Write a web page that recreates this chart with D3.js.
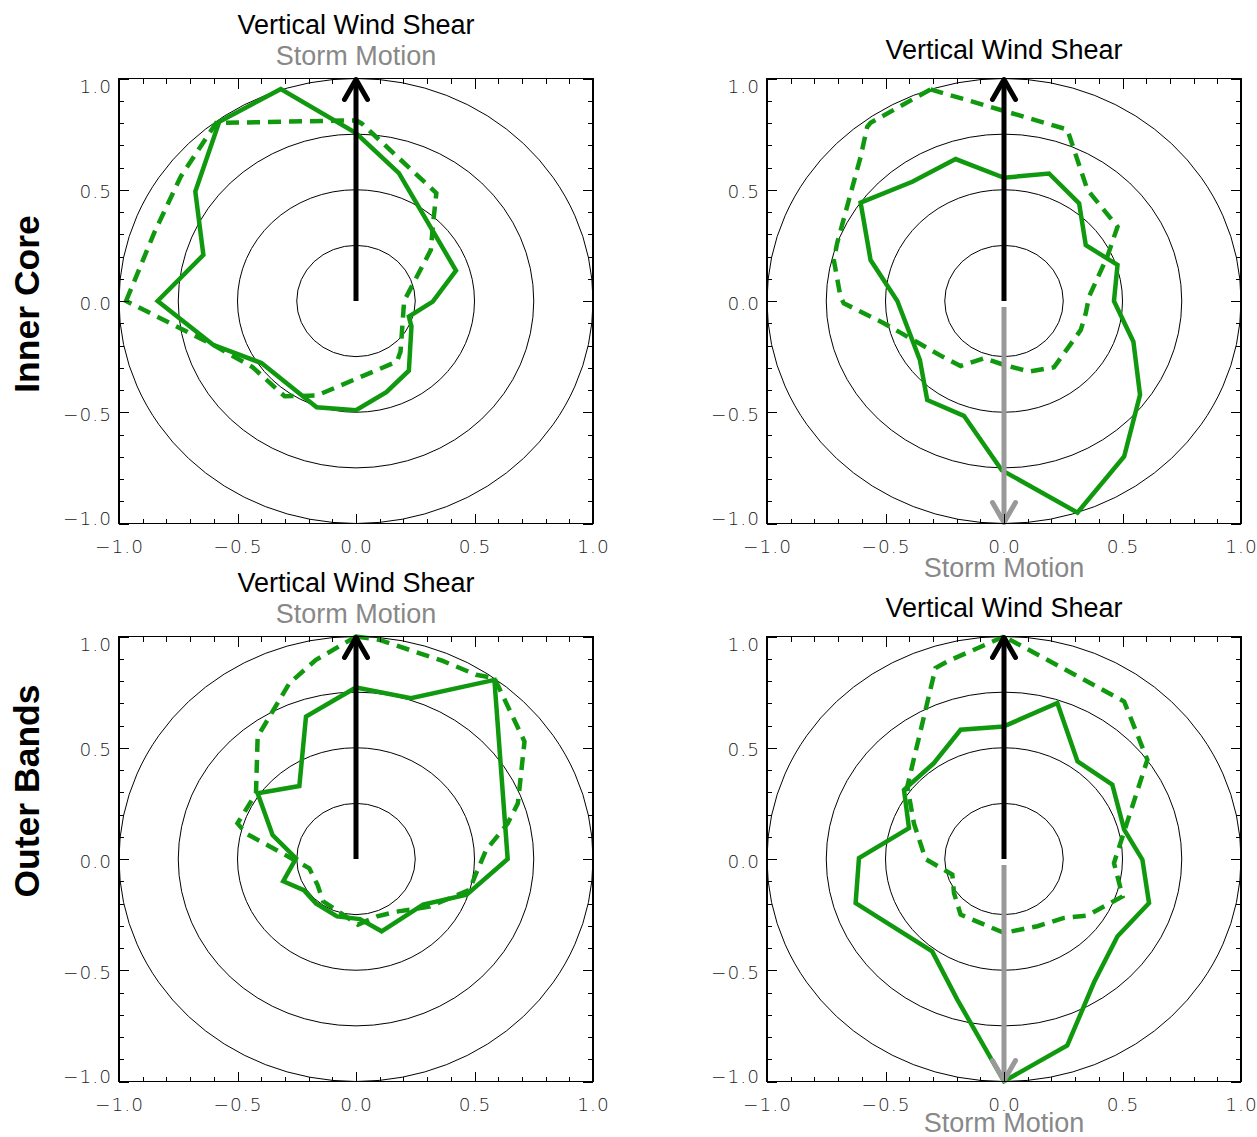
<!DOCTYPE html>
<html><head><meta charset="utf-8">
<script src="https://cdn.jsdelivr.net/npm/d3@7"></script>
<style>body{margin:0;background:#fff;} svg{display:block}</style>
</head><body><svg id="c" width="1257" height="1137"></svg>
<script>
// ---------------- data ----------------
const ringRadii = [0.25, 0.5, 0.75, 1.0];
const majorTicks = [-1, -0.5, 0, 0.5, 1];
const tickLabels = ["−1.0", "−0.5", "0.0", "0.5", "1.0"];
const minorTicks = [-0.9,-0.8,-0.7,-0.6,-0.4,-0.3,-0.2,-0.1,0.1,0.2,0.3,0.4,0.6,0.7,0.8,0.9];
const rowLabels = ["Inner Core", "Outer Bands"];
const shearTitle = "Vertical Wind Shear";
const motionTitle = "Storm Motion";

// [x, y] vertices (normalized, shear pointing up)
const innerShearSolid = [[-0.317,0.953],[-0.577,0.805],[-0.678,0.492],[-0.644,0.207],[-0.837,0.0],[-0.603,-0.197],[-0.399,-0.279],[-0.166,-0.478],[0.0,-0.491],[0.128,-0.41],[0.223,-0.313],[0.234,-0.115],[0.223,-0.07],[0.324,-0.003],[0.422,0.137],[0.181,0.575],[0.0,0.755]];
const innerShearDashed = [[-0.97,0.0],[-0.852,0.305],[-0.739,0.56],[-0.59,0.80],[0.0,0.812],[0.025,0.797],[0.339,0.485],[0.324,0.335],[0.316,0.23],[0.203,0.0],[0.188,-0.227],[0.173,-0.272],[-0.166,-0.425],[-0.301,-0.428],[-0.437,-0.297],[-0.603,-0.197]];
const innerMotionSolid = [[-0.605,0.442],[-0.387,0.536],[-0.204,0.638],[0.0,0.554],[0.19,0.573],[0.317,0.439],[0.345,0.251],[0.479,0.162],[0.464,0.0],[0.546,-0.183],[0.574,-0.422],[0.507,-0.699],[0.31,-0.951],[-0.01,-0.76],[-0.169,-0.516],[-0.324,-0.445],[-0.355,-0.265],[-0.45,0.0],[-0.563,0.184]];
const innerMotionDashed = [[-0.31,0.951],[0.267,0.771],[0.296,0.678],[0.352,0.5],[0.479,0.334],[0.436,0.2],[0.359,0.02],[0.345,-0.055],[0.324,-0.13],[0.211,-0.298],[0.106,-0.317],[0.0,-0.287],[-0.084,-0.257],[-0.183,-0.292],[-0.26,-0.25],[-0.408,-0.16],[-0.507,-0.1],[-0.676,-0.01],[-0.69,0.02],[-0.718,0.184],[-0.704,0.26],[-0.605,0.648],[-0.577,0.783],[-0.563,0.801]];
const outerShearSolid = [[0.0,0.771],[0.232,0.723],[0.584,0.805],[0.64,0.0],[0.467,-0.16],[0.283,-0.205],[0.108,-0.325],[0.017,-0.27],[-0.08,-0.258],[-0.169,-0.2],[-0.22,-0.14],[-0.307,-0.1],[-0.253,0.003],[-0.352,0.108],[-0.415,0.295],[-0.239,0.328],[-0.211,0.64]];
const outerShearDashed = [[0.0,1.0],[0.099,0.985],[0.366,0.89],[0.507,0.828],[0.584,0.813],[0.711,0.528],[0.683,0.25],[0.64,0.16],[0.549,0.04],[0.507,-0.064],[0.479,-0.139],[0.31,-0.214],[0.169,-0.237],[0.089,-0.258],[0.008,-0.295],[-0.139,-0.19],[-0.162,-0.117],[-0.197,-0.042],[-0.31,0.025],[-0.464,0.115],[-0.5,0.16],[-0.422,0.295],[-0.415,0.55],[-0.352,0.663],[-0.281,0.79],[-0.169,0.895]];
const outerMotionSolid = [[0.0,0.596],[-0.183,0.581],[-0.296,0.431],[-0.422,0.311],[-0.401,0.139],[-0.612,0.004],[-0.626,-0.198],[-0.303,-0.415],[-0.197,-0.632],[0.0,-0.999],[0.267,-0.838],[0.38,-0.554],[0.479,-0.347],[0.612,-0.198],[0.584,-0.003],[0.507,0.132],[0.457,0.334],[0.31,0.439],[0.225,0.701],[0.014,0.603]];
const outerMotionDashed = [[0.0,1.0],[-0.239,0.888],[-0.289,0.858],[-0.408,0.326],[-0.38,0.16],[-0.331,0.0],[-0.218,-0.07],[-0.211,-0.153],[-0.183,-0.25],[0.0,-0.332],[0.141,-0.302],[0.253,-0.265],[0.352,-0.254],[0.5,-0.168],[0.486,-0.108],[0.464,-0.018],[0.605,0.446],[0.507,0.708]];

// ---------------- layout ----------------
const W = 474, H = 445;
const GREEN = "#10990f", GRAY = "#999999";
const panels = [
  {x0:119, y0:78.5,  solid:innerShearSolid,  dashed:innerShearDashed,  opposite:false, motionDy:0},
  {x0:767, y0:78.5,  solid:innerMotionSolid, dashed:innerMotionDashed, opposite:true,  motionDy:53},
  {x0:119, y0:636.5, solid:outerShearSolid,  dashed:outerShearDashed,  opposite:false, motionDy:0},
  {x0:767, y0:636.5, solid:outerMotionSolid, dashed:outerMotionDashed, opposite:true,  motionDy:50}
];

const svg = d3.select("#c");
const TICKFONT = "'DejaVu Sans', sans-serif";
const TITLEFONT = "'Liberation Sans', Arial, sans-serif";

panels.forEach(p => {
  const g = svg.append("g").attr("transform", `translate(${p.x0},${p.y0})`);
  const x = d3.scaleLinear().domain([-1, 1]).range([0, W]);
  const y = d3.scaleLinear().domain([-1, 1]).range([H, 0]);

  // rings
  g.append("g").selectAll("ellipse").data(ringRadii).join("ellipse")
    .attr("cx", x(0)).attr("cy", y(0))
    .attr("rx", r => x(r) - x(0)).attr("ry", r => y(0) - y(r))
    .attr("fill", "none").attr("stroke", "#000").attr("stroke-width", 1);

  const line = d3.line().x(d => x(d[0])).y(d => y(d[1])).curve(d3.curveLinearClosed);
  g.append("path").attr("d", line(p.dashed)).attr("fill", "none")
    .attr("stroke", GREEN).attr("stroke-width", 4.5).attr("stroke-dasharray", "13,8");
  g.append("path").attr("d", line(p.solid)).attr("fill", "none")
    .attr("stroke", GREEN).attr("stroke-width", 4.5);

  // shear arrow (black, up)
  const cx = x(0);
  g.append("line").attr("x1", cx).attr("x2", cx).attr("y1", y(0)).attr("y2", y(1) + 3)
    .attr("stroke", "#000").attr("stroke-width", 5);
  g.append("path").attr("d", `M${cx-11.5},${y(1)+21}L${cx},${y(1)+1}L${cx+11.5},${y(1)+21}`)
    .attr("fill", "none").attr("stroke", "#000").attr("stroke-width", 5)
    .attr("stroke-linecap", "round").attr("stroke-linejoin", "round");

  // storm motion arrow (gray, down) when opposite
  if (p.opposite) {
    g.append("line").attr("x1", cx).attr("x2", cx).attr("y1", y(0) + 6).attr("y2", y(-1) - 3)
      .attr("stroke", GRAY).attr("stroke-width", 5);
    g.append("path").attr("d", `M${cx-11.5},${y(-1)-21}L${cx},${y(-1)-1}L${cx+11.5},${y(-1)-21}`)
      .attr("fill", "none").attr("stroke", GRAY).attr("stroke-width", 5)
      .attr("stroke-linecap", "round").attr("stroke-linejoin", "round");
  }

  const addAxis = (gen, tr) => {
    const ag = g.append("g").attr("transform", tr).call(gen);
    ag.select(".domain").remove();
    ag.selectAll("line").attr("stroke", "#000").attr("stroke-width", 1).attr("shape-rendering", "crispEdges");
    return ag;
  };
  // bottom
  addAxis(d3.axisBottom(x).tickValues(minorTicks).tickSize(-5).tickFormat(""), `translate(0,${H})`);
  const bx = addAxis(d3.axisBottom(x).tickValues(majorTicks).tickSize(-10).tickPadding(16.5)
    .tickFormat((d, i) => tickLabels[i]), `translate(0,${H})`);
  // top
  addAxis(d3.axisTop(x).tickValues(minorTicks).tickSize(-5).tickFormat(""), `translate(0,0)`);
  addAxis(d3.axisTop(x).tickValues(majorTicks).tickSize(-10).tickFormat(""), `translate(0,0)`);
  // left
  addAxis(d3.axisLeft(y).tickValues(minorTicks).tickSize(-5).tickFormat(""), `translate(0,0)`);
  const ly = addAxis(d3.axisLeft(y).tickValues(majorTicks).tickSize(-10).tickPadding(7)
    .tickFormat((d, i) => tickLabels[i]), `translate(0,0)`);
  // right
  addAxis(d3.axisRight(y).tickValues(minorTicks).tickSize(-5).tickFormat(""), `translate(${W},0)`);
  addAxis(d3.axisRight(y).tickValues(majorTicks).tickSize(-10).tickFormat(""), `translate(${W},0)`);

  [bx, ly].forEach(ag => ag.attr("font-size", null).attr("font-family", null)
    .selectAll("text")
    .attr("font-family", TICKFONT).attr("font-size", 18.5).attr("fill", "#222")
    .attr("letter-spacing", "1px").attr("font-weight", 200));
  ly.selectAll("text").attr("x", -7)
    .attr("y", d => d === 1 ? 7.5 : (d === -1 ? -5.5 : 1.5)).attr("dy", "0.36em");

  // frame
  g.append("rect").attr("x", 0).attr("y", 0).attr("width", W).attr("height", H)
    .attr("fill", "none").attr("stroke", "#000").attr("stroke-width", 1.6)
    .attr("shape-rendering", "crispEdges");

  // titles
  const tx = x(0);
  const title = (ty, txt, col) => g.append("text").attr("x", tx).attr("y", ty)
    .attr("text-anchor", "middle").attr("font-family", TITLEFONT)
    .attr("font-size", 27).attr("fill", col).text(txt);
  if (!p.opposite) {
    title(-45, shearTitle, "#000");
    title(-13.5, motionTitle, "#888");
  } else {
    title(-19.5, shearTitle, "#000");
    title(H + p.motionDy, motionTitle, "#888");
  }
});

// row labels
const rowCenters = [304, 791];
rowLabels.forEach((t, i) => {
  svg.append("text")
    .attr("transform", `translate(39,${rowCenters[i]}) rotate(-90)`)
    .attr("text-anchor", "middle")
    .attr("font-family", TITLEFONT).attr("font-weight", "bold").attr("font-size", 35.5)
    .attr("fill", "#000").text(t);
});
</script>
</body></html>
